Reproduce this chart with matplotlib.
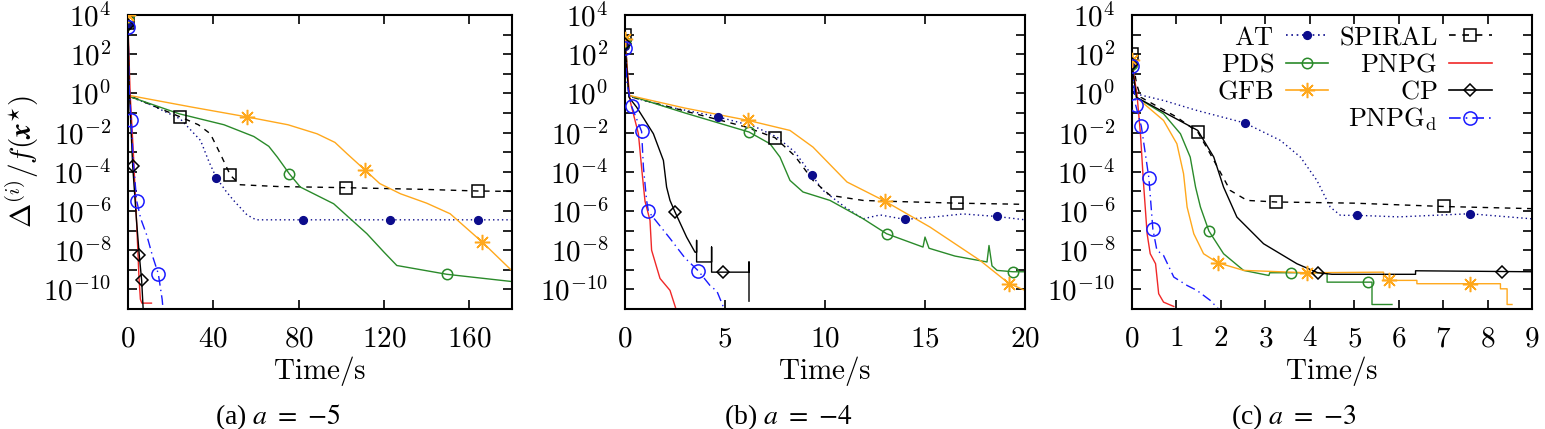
import numpy as np
import matplotlib
matplotlib.use('Agg')
import matplotlib.pyplot as plt
from matplotlib.lines import Line2D
from matplotlib.ticker import NullLocator

plt.rcParams['mathtext.fontset'] = 'cm'
plt.rcParams['font.family'] = 'DejaVu Serif'

# values are log10 of Delta/f(x*)
# ---- (a) a = -5 ----
a_AT_t = [0, 0.4, 10, 24.5, 34, 38, 41.4, 46, 49.5, 55.8, 60, 180]
a_AT_v = [3.5, -0.15, -0.55, -1.3, -2.4, -3.5, -4.3, -5.0, -5.46, -6.2, -6.45, -6.45]
a_AT_m = [0, 41.4, 82, 123, 164]
a_SP_t = [0, 0.4, 10, 24.5, 33, 38.6, 44, 48, 52.6, 70, 102, 140, 164, 180]
a_SP_v = [3.6, -0.1, -0.55, -1.2, -1.6, -2.06, -3.25, -4.18, -4.66, -4.75, -4.81, -4.9, -4.98, -5.0]
a_SP_m = [0, 24.5, 48, 102, 164]
a_PDS_t = [0, 0.4, 24, 45, 59, 66, 70, 75.6, 80.8, 96.4, 112, 120, 126, 149.5, 180]
a_PDS_v = [3.9, -0.15, -1.04, -1.6, -2.2, -2.7, -3.25, -4.1, -4.78, -5.63, -7.16, -8.1, -8.78, -9.23, -9.6]
a_PDS_m = [0, 75.6, 149.5]
a_GFB_t = [0, 0.4, 30, 55.8, 75, 88.6, 97, 102.7, 111, 118, 127.7, 140, 151, 166, 179.5]
a_GFB_v = [4.0, -0.1, -0.7, -1.2, -1.6, -2.06, -2.5, -3.08, -3.9, -4.6, -5.12, -5.6, -6.14, -7.58, -9.0]
a_GFB_m = [0, 55.8, 111, 166]
a_PN_t = [0, 1, 2.5, 4, 5.2, 5.8, 6.5, 11]
a_PN_v = [3.5, 0, -3, -6.5, -9.5, -10.5, -10.7, -10.7]
a_CP_t = [0, 0.5, 1.5, 2.2, 4, 5.3, 6.4, 7.2]
a_CP_v = [3.5, 0.5, -2, -3.7, -6.5, -8.27, -9.54, -11.2]
a_CP_m = [0, 2.2, 5.3, 6.4]
a_PNd_t = [0, 0.5, 1.5, 2.5, 4.1, 6, 8.7, 11.5, 14.2, 16, 16.6]
a_PNd_v = [3.4, 0.5, -1.38, -3.5, -5.5, -6.4, -7.2, -8.3, -9.2, -10.5, -11.2]
a_PNd_m = [0, 1.5, 4.1, 14.2]

# ---- (b) a = -4 ----
b_AT_t = [0, 0.2, 2, 4.67, 6.5, 7.6, 8.5, 9.33, 9.9, 11, 11.9, 12.75, 14, 15.5, 16.9, 18.6, 20]
b_AT_v = [2.4, -0.15, -0.65, -1.2, -1.7, -2.23, -3.0, -4.15, -4.95, -5.8, -6.4, -6.2, -6.43, -6.3, -6.15, -6.28, -6.45]
b_AT_m = [0, 4.67, 9.33, 14, 18.6]
b_SP_t = [0, 0.2, 3, 6, 7.5, 8.5, 9.4, 10.25, 11.9, 13, 16.6, 20]
b_SP_v = [3.0, -0.15, -0.9, -1.7, -2.26, -3.2, -4.44, -5.2, -5.46, -5.5, -5.6, -5.66]
b_SP_m = [0, 7.5, 16.6]
b_PDS_t = [0, 0.2, 3, 6.2, 7.25, 7.75, 8.25, 8.9, 10.25, 11.9, 13.08, 14.9, 15.0, 15.2,
           16.5, 18.1, 18.2, 18.35, 18.6, 19.4, 20]
b_PDS_v = [2.6, -0.1, -1.0, -1.97, -2.57, -3.25, -4.44, -5.03, -5.46, -6.39, -7.16, -7.84, -7.33, -7.9,
           -8.3, -8.6, -7.76, -8.8, -9.03, -9.1, -9.1]
b_PDS_m = [0, 6.2, 13.08, 19.4]
b_GFB_t = [0, 0.2, 3, 6.17, 8.25, 9.4, 11.1, 13.0, 15.25, 17.75, 19.2, 20]
b_GFB_v = [2.8, -0.1, -0.75, -1.38, -1.89, -2.74, -4.52, -5.5, -6.82, -8.52, -9.7, -10.05]
b_GFB_m = [0, 6.17, 13.0, 19.2]
b_PN_t = [0, 0.25, 0.67, 0.85, 1.0, 1.25, 1.33, 1.58, 1.75, 2.25, 2.58]
b_PN_v = [2.5, -0.36, -2.06, -4.0, -5.5, -6.48, -8.0, -8.86, -9.44, -10.05, -11.1]
b_CP_t = [0, 0.2, 0.58, 1.42, 1.92, 2.08, 2.25, 2.5, 3.08, 3.5, 3.58, 3.58, 3.58,
          4.33, 4.33, 4.33, 6.2, 6.2, 6.2]
b_CP_v = [2.5, -0.2, -0.7, -2.06, -3.42, -4.78, -5.46, -6.05, -7.33, -8.1, -8.1, -7.5, -8.6,
          -8.6, -7.84, -9.12, -9.12, -8.6, -10.6]
b_CP_m = [0, 2.5, 4.9]
b_PNd_t = [0, 0.1, 0.33, 0.83, 0.92, 1.08, 1.17, 2.25, 3.0, 3.67, 4.25, 4.6, 5.0]
b_PNd_v = [2.3, 0.5, -0.66, -1.94, -3.76, -5.46, -6.02, -7.4, -8.4, -9.06, -9.8, -10.1, -11.1]
b_PNd_m = [0, 0.33, 0.83, 1.17, 3.67]

# ---- (c) a = -3 ----
c_AT_t = [0, 0.04, 0.71, 1.46, 2.54, 3.34, 3.79, 4.16, 4.46, 4.69, 5.06, 6, 7.6, 9]
c_AT_v = [1.48, 0, -0.36, -0.87, -1.51, -2.4, -3.25, -4.44, -5.8, -6.22, -6.22, -6.3, -6.14, -6.4]
c_AT_m = [0, 2.54, 5.06, 7.6]
c_SP_t = [0, 0.1, 0.2, 1.0, 1.48, 1.76, 2.21, 2.59, 3.25, 5, 7.01, 9]
c_SP_v = [2.02, 0.5, -0.2, -1.2, -1.97, -3.08, -4.95, -5.46, -5.54, -5.6, -5.77, -5.88]
c_SP_m = [0, 1.48, 3.25, 7.01]
c_PDS_t = [0, 0.1, 0.71, 1.09, 1.31, 1.43, 1.54, 1.73, 2.06, 2.51, 3.08, 3.1,
           4.39, 4.39, 5.4, 5.4, 5.85]
c_PDS_v = [1.5, -0.2, -1.04, -2.06, -3.25, -4.78, -5.8, -7.02, -8.18, -9.03, -9.29, -9.15,
           -9.15, -9.63, -9.63, -10.77, -10.77]
c_PDS_m = [0, 1.73, 3.58, 5.3]
c_GFB_t = [0, 0.1, 0.71, 1.01, 1.16, 1.24, 1.39, 1.61, 1.93, 2.51, 3.93, 5.66, 5.66,
           6.41, 6.41, 8.29, 8.29, 8.44, 8.44, 8.55]
c_GFB_v = [1.7, -0.2, -1.38, -2.57, -4.1, -5.8, -7.16, -8.18, -8.64, -9.03, -9.15, -9.12, -9.54,
           -9.54, -9.71, -9.71, -9.97, -9.97, -10.77, -10.77]
c_GFB_m = [0, 1.93, 3.93, 5.78, 7.61]
c_PN_t = [0, 0.11, 0.19, 0.26, 0.34, 0.41, 0.53, 0.6, 0.71, 0.94]
c_PN_v = [1.5, 0, -2.06, -4.61, -7.16, -8.18, -8.69, -10.22, -10.65, -10.87]
c_CP_t = [0, 0.1, 1.48, 1.84, 2.06, 2.36, 2.96, 3.71, 4.18, 4.5, 6.38, 6.38, 9]
c_CP_v = [1.5, -0.2, -1.89, -3.25, -4.78, -6.31, -7.67, -8.69, -9.15, -9.23, -9.23, -9.05, -9.1]
c_CP_m = [0, 4.18, 8.33]
c_PNd_t = [0, 0.08, 0.21, 0.38, 0.47, 0.56, 0.71, 0.94, 1.24, 1.46, 1.76, 1.99]
c_PNd_v = [1.4, -0.58, -1.68, -4.32, -6.94, -8.0, -8.27, -9.37, -9.8, -10.05, -10.56, -11.1]
c_PNd_m = [0, 0.08, 0.21, 0.38, 0.47]

x_max = [180, 20, 9]
x_ticks = [[0, 40, 80, 120, 160], [0, 5, 10, 15, 20], list(range(10))]
captions = ['(a) $a$ $=$ $-5$', '(b) $a$ $=$ $-4$', '(c) $a$ $=$ $-3$']

names = ['AT', 'SPIRAL', 'PDS', 'GFB', 'PNPG', 'CP', 'PNPGd']
labels = {'AT': r'$\mathrm{AT}$', 'SPIRAL': r'$\mathrm{SPIRAL}$', 'PDS': r'$\mathrm{PDS}$',
          'GFB': r'$\mathrm{GFB}$', 'PNPG': r'$\mathrm{PNPG}$', 'CP': r'$\mathrm{CP}$',
          'PNPGd': r'$\mathrm{PNPG}_\mathrm{d}$'}

styles = {
    'AT': dict(color='#0c0c8c', ls=(0, (1, 2.2)), marker='o', mfc='#0c0c8c', ms=5.5),
    'SPIRAL': dict(color='black', ls=(0, (4, 4)), marker='s', mfc='none', ms=8.5),
    'PDS': dict(color='#2a8a2a', ls='-', marker='o', mfc='none', ms=7.5),
    'GFB': dict(color='#ffa81c', ls='-', marker=(8, 2, 0), mfc='none', ms=11),
    'PNPG': dict(color='#f02828', ls='-', marker=None, mfc='none', ms=0),
    'CP': dict(color='black', ls='-', marker='D', mfc='none', ms=6),
    'PNPGd': dict(color='#1a1aff', ls=(0, (7, 3, 1, 3)), marker='o', mfc='none', ms=9.5),
}

panels = [
    {'AT': (a_AT_t, a_AT_v, a_AT_m), 'SPIRAL': (a_SP_t, a_SP_v, a_SP_m),
     'PDS': (a_PDS_t, a_PDS_v, a_PDS_m), 'GFB': (a_GFB_t, a_GFB_v, a_GFB_m),
     'PNPG': (a_PN_t, a_PN_v, []), 'CP': (a_CP_t, a_CP_v, a_CP_m),
     'PNPGd': (a_PNd_t, a_PNd_v, a_PNd_m)},
    {'AT': (b_AT_t, b_AT_v, b_AT_m), 'SPIRAL': (b_SP_t, b_SP_v, b_SP_m),
     'PDS': (b_PDS_t, b_PDS_v, b_PDS_m), 'GFB': (b_GFB_t, b_GFB_v, b_GFB_m),
     'PNPG': (b_PN_t, b_PN_v, []), 'CP': (b_CP_t, b_CP_v, b_CP_m),
     'PNPGd': (b_PNd_t, b_PNd_v, b_PNd_m)},
    {'AT': (c_AT_t, c_AT_v, c_AT_m), 'SPIRAL': (c_SP_t, c_SP_v, c_SP_m),
     'PDS': (c_PDS_t, c_PDS_v, c_PDS_m), 'GFB': (c_GFB_t, c_GFB_v, c_GFB_m),
     'PNPG': (c_PN_t, c_PN_v, []), 'CP': (c_CP_t, c_CP_v, c_CP_m),
     'PNPGd': (c_PNd_t, c_PNd_v, c_PNd_m)},
]

W, H = 1545, 429
fig = plt.figure(figsize=(W / 100, H / 100), dpi=100)
lefts = [128, 625, 1132]
widths = [384, 400, 400]
cap_x = [278, 788, 1294]
fs = 21

for k in range(3):
    ax = fig.add_axes([lefts[k] / W, (H - 309) / H, widths[k] / W, 294 / H])
    for name in names:
        t, v, m = panels[k][name]
        st = styles[name]
        ax.plot(t, 10.0 ** np.array(v), color=st['color'], ls=st['ls'], lw=1.0, zorder=2)
        if len(m):
            mv = np.interp(m, t, v)
            ax.plot(m, 10.0 ** mv, ls='none', marker=st['marker'], ms=st['ms'],
                    mfc=st['mfc'], mec=st['color'], mew=1.1, color=st['color'], zorder=3)
    ax.set_yscale('log')
    ax.set_ylim(1e-11, 1e4)
    ax.set_xlim(0, x_max[k])
    dec = np.arange(-10, 5)
    ax.set_yticks(10.0 ** dec)
    ax.set_yticklabels([r'$10^{%d}$' % d if d % 2 == 0 else '' for d in dec])
    ax.yaxis.set_minor_locator(NullLocator())
    ax.set_xticks(x_ticks[k])
    ax.set_xticklabels([r'$%d$' % x for x in x_ticks[k]])
    ax.tick_params(direction='in', top=True, right=True, length=6.5, width=1.2,
                   labelsize=fs)
    ax.tick_params(axis='x', pad=11)
    ax.tick_params(axis='y', pad=12)
    for s in ax.spines.values():
        s.set_linewidth(1.5)
    ax.set_xlabel(r'$\mathrm{Time/s}$', fontsize=fs, labelpad=1)
    if k == 0:
        ax.set_ylabel(r'$\Delta^{(i)}/f(\boldsymbol{x}^{\star})$', fontsize=fs, labelpad=2)
    fig.text(cap_x[k] / W, (H - 417) / H, captions[k], ha='center', va='center',
             fontsize=20, fontfamily='Liberation Serif', math_fontfamily='stix')
    if k == 2:
        handles = []
        order = ['AT', 'PDS', 'GFB', None, 'SPIRAL', 'PNPG', 'CP', 'PNPGd']
        labs = []
        for name in order:
            if name is None:
                handles.append(Line2D([], [], ls='none'))
                labs.append('')
                continue
            st = styles[name]
            handles.append(Line2D([], [], color=st['color'], ls=st['ls'], lw=1.2,
                                  marker=st['marker'], ms=st['ms'], mfc=st['mfc'],
                                  mec=st['color'], mew=1.1))
            labs.append(labels[name])
        ax.legend(handles, labs, ncol=2, markerfirst=False, frameon=False,
                  loc='upper right', bbox_to_anchor=(0.945, 1.03), fontsize=19,
                  handlelength=1.6, handletextpad=0.45, columnspacing=0.4,
                  labelspacing=0.08, borderpad=0.2)

fig.savefig('out.png', dpi=100)
